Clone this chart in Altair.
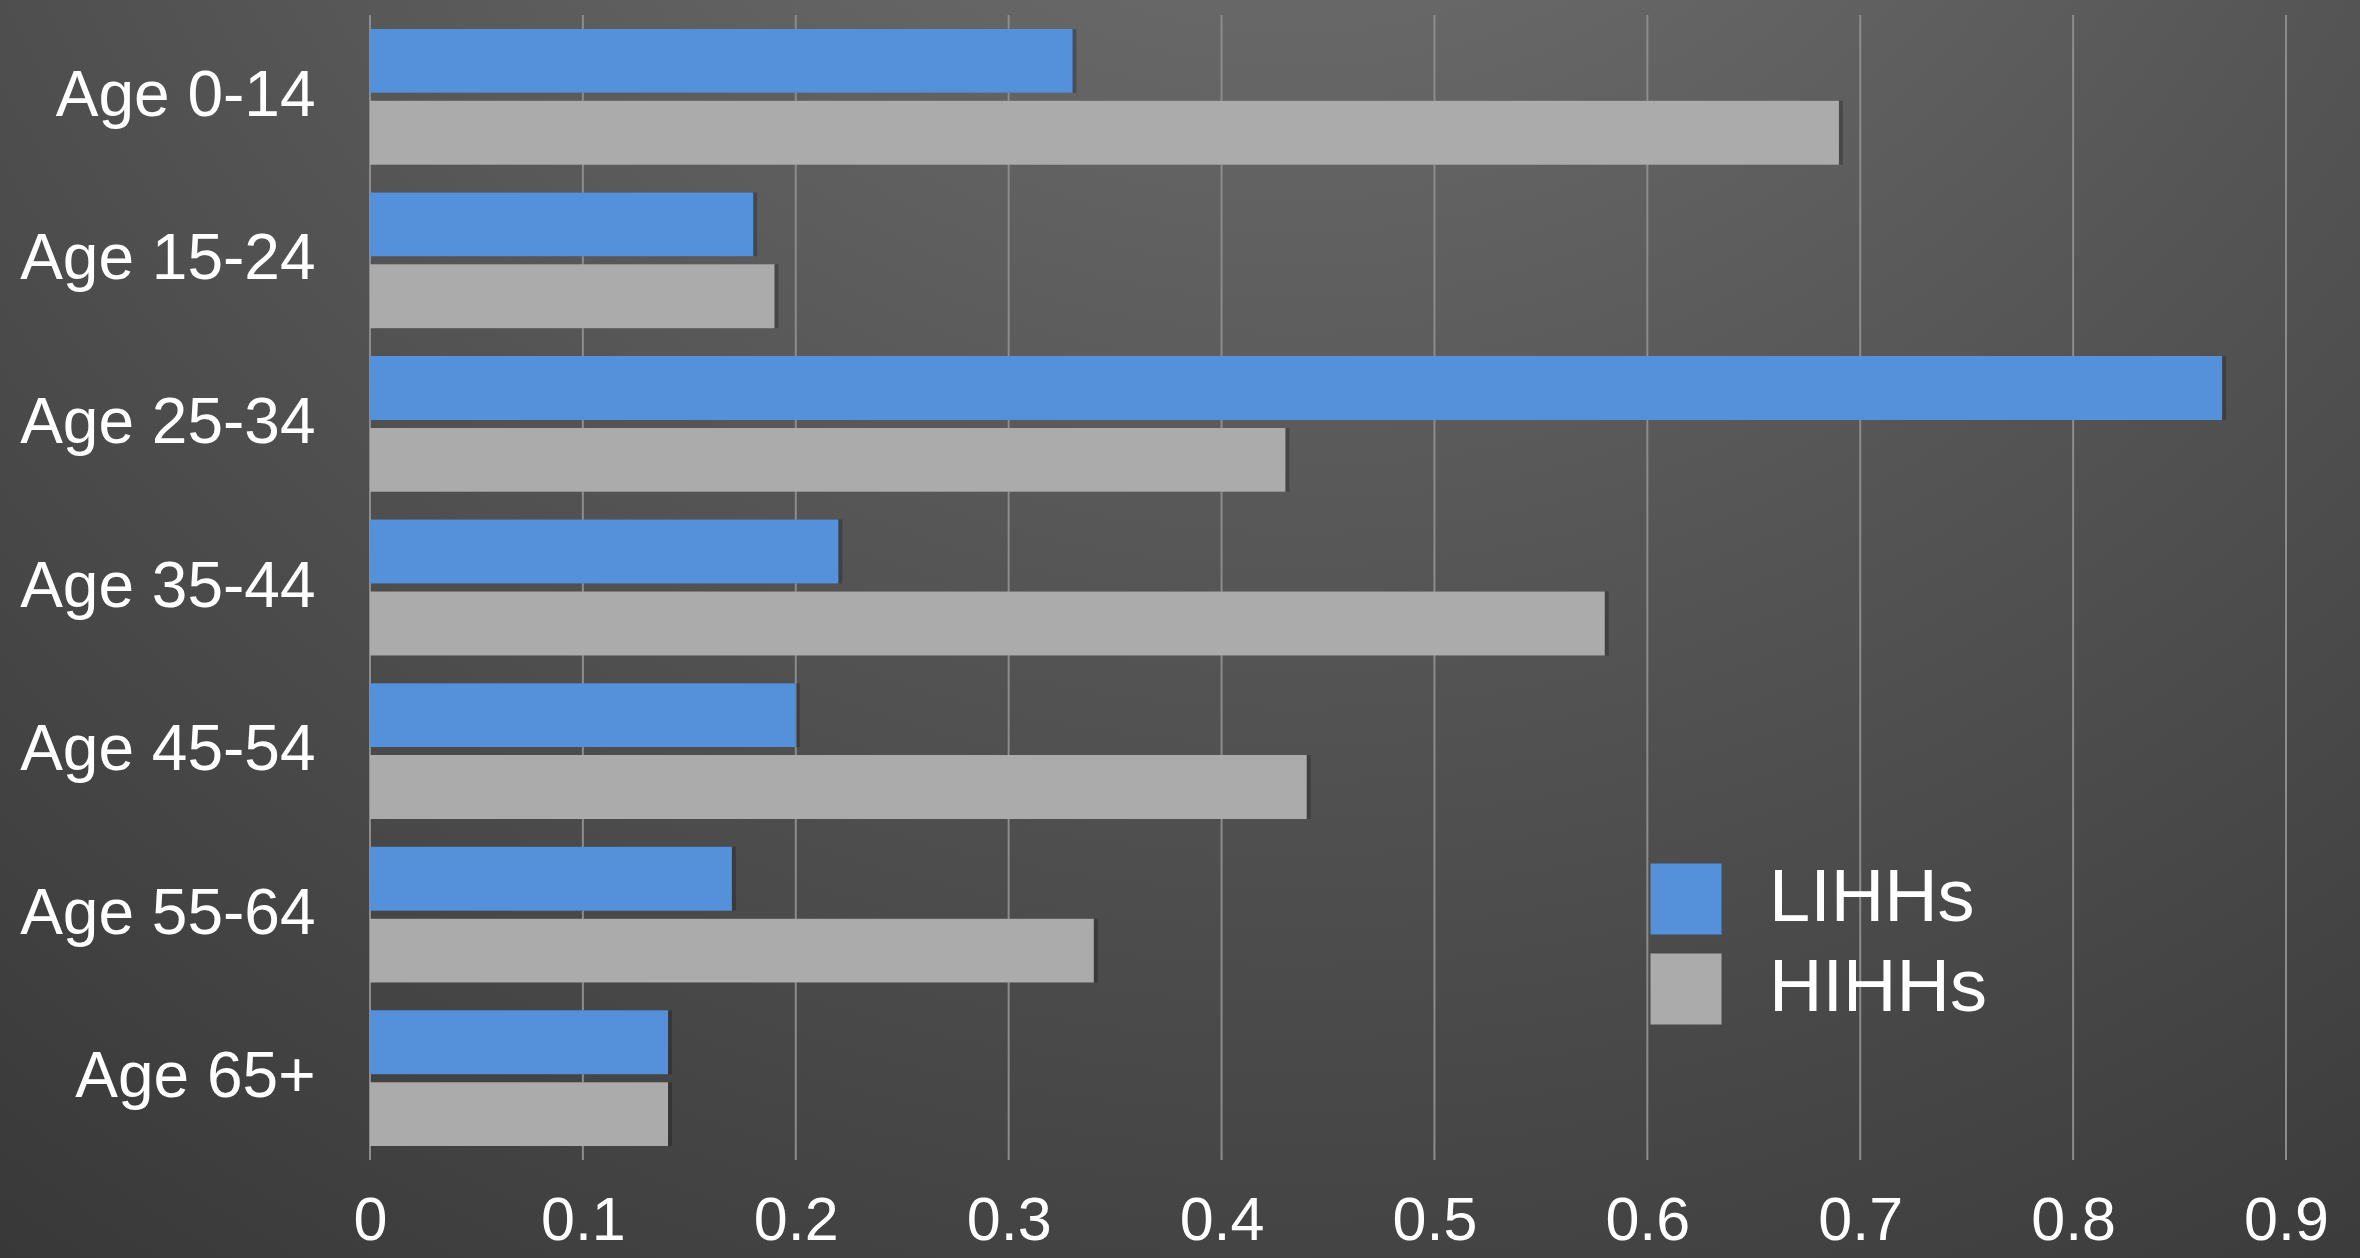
import altair as alt
import pandas as pd

categories = ["Age 0-14", "Age 15-24", "Age 25-34", "Age 35-44", "Age 45-54", "Age 55-64", "Age 65+"]
series = ["LIHHs", "HIHHs"]
lihhs = [0.33, 0.18, 0.87, 0.22, 0.20, 0.17, 0.14]
hihhs = [0.69, 0.19, 0.43, 0.58, 0.44, 0.34, 0.14]
tick_values = [0, 0.1, 0.2, 0.3, 0.4, 0.5, 0.6, 0.7, 0.8, 0.9]
colors = ["#5590da", "#ababab"]

rows = []
for c, a, b in zip(categories, lihhs, hihhs):
    rows.append({"category": c, "series": "LIHHs", "value": a})
    rows.append({"category": c, "series": "HIHHs", "value": b})
df = pd.DataFrame(rows)
grid_df = pd.DataFrame({"value": tick_values})

W, H = 1916, 1145
PAD = {"left": 370, "top": 15, "right": 74, "bottom": 98}
FONT = "Liberation Sans"

xscale = alt.Scale(domain=[0, 0.9], nice=False, zero=True)
xaxis = alt.Axis(
    title=None, values=tick_values, format="~g", grid=False,
    domain=False, ticks=False, labelPadding=31, labelFontSize=61,
    labelColor="white", labelFont=FONT, labelFlush=False,
    labelOverlap=False, zindex=1,
)
yscale = alt.Scale(paddingInner=0.17, paddingOuter=0.085)
yaxis = alt.Axis(
    title=None, domain=False, ticks=False, labelPadding=55,
    labelFontSize=64, labelColor="white", labelFont=FONT,
    labelLimit=0, zindex=1,
)
yoff = alt.YOffset("series:N", sort=series, scale=alt.Scale(paddingInner=0.111))

bg = alt.Chart(pd.DataFrame({"d": [0]})).mark_rect(
    fill={
        "gradient": "radial",
        "x1": 0.55, "y1": 0.0, "r1": 0.0,
        "x2": 0.55, "y2": 0.0, "r2": 1.1,
        "stops": [
            {"offset": 0.0, "color": "#787878"},
            {"offset": 0.45, "color": "#555555"},
            {"offset": 1.0, "color": "#2e2e2e"},
        ],
    }
).encode(
    x=alt.value(-PAD["left"]),
    x2=alt.value(W + PAD["right"]),
    y=alt.value(-PAD["top"]),
    y2=alt.value(H + PAD["bottom"]),
)

grid = alt.Chart(grid_df).mark_rule(color="#8c8c8c", strokeWidth=2).encode(
    x=alt.X("value:Q", scale=xscale, axis=xaxis)
)

shadow = alt.Chart(df).mark_bar(color="black", opacity=0.22, xOffset=4, yOffset=5).encode(
    y=alt.Y("category:N", sort=categories, scale=yscale, axis=yaxis),
    yOffset=yoff,
    x=alt.X("value:Q", scale=xscale, axis=xaxis),
)

bars = alt.Chart(df).mark_bar().encode(
    y=alt.Y("category:N", sort=categories, scale=yscale, axis=yaxis),
    yOffset=yoff,
    x=alt.X("value:Q", scale=xscale, axis=xaxis),
    color=alt.Color(
        "series:N",
        scale=alt.Scale(domain=series, range=colors),
        legend=alt.Legend(
            title=None, orient="none", legendX=1279, legendY=847,
            symbolType="square", symbolSize=5041, symbolStrokeWidth=0,
            symbolOpacity=1, labelFontSize=74, labelColor="white",
            labelFont=FONT, labelOffset=46, rowPadding=16, padding=0,
            labelLimit=0,
        ),
    ),
)

chart = alt.layer(bg, grid, shadow, bars).properties(
    width=W, height=H,
    autosize=alt.AutoSizeParams(type="none"),
    padding=PAD,
).configure(background="#474747").configure_view(stroke=None)

chart.save("out.html", embed_options={"renderer": "svg", "actions": False})
